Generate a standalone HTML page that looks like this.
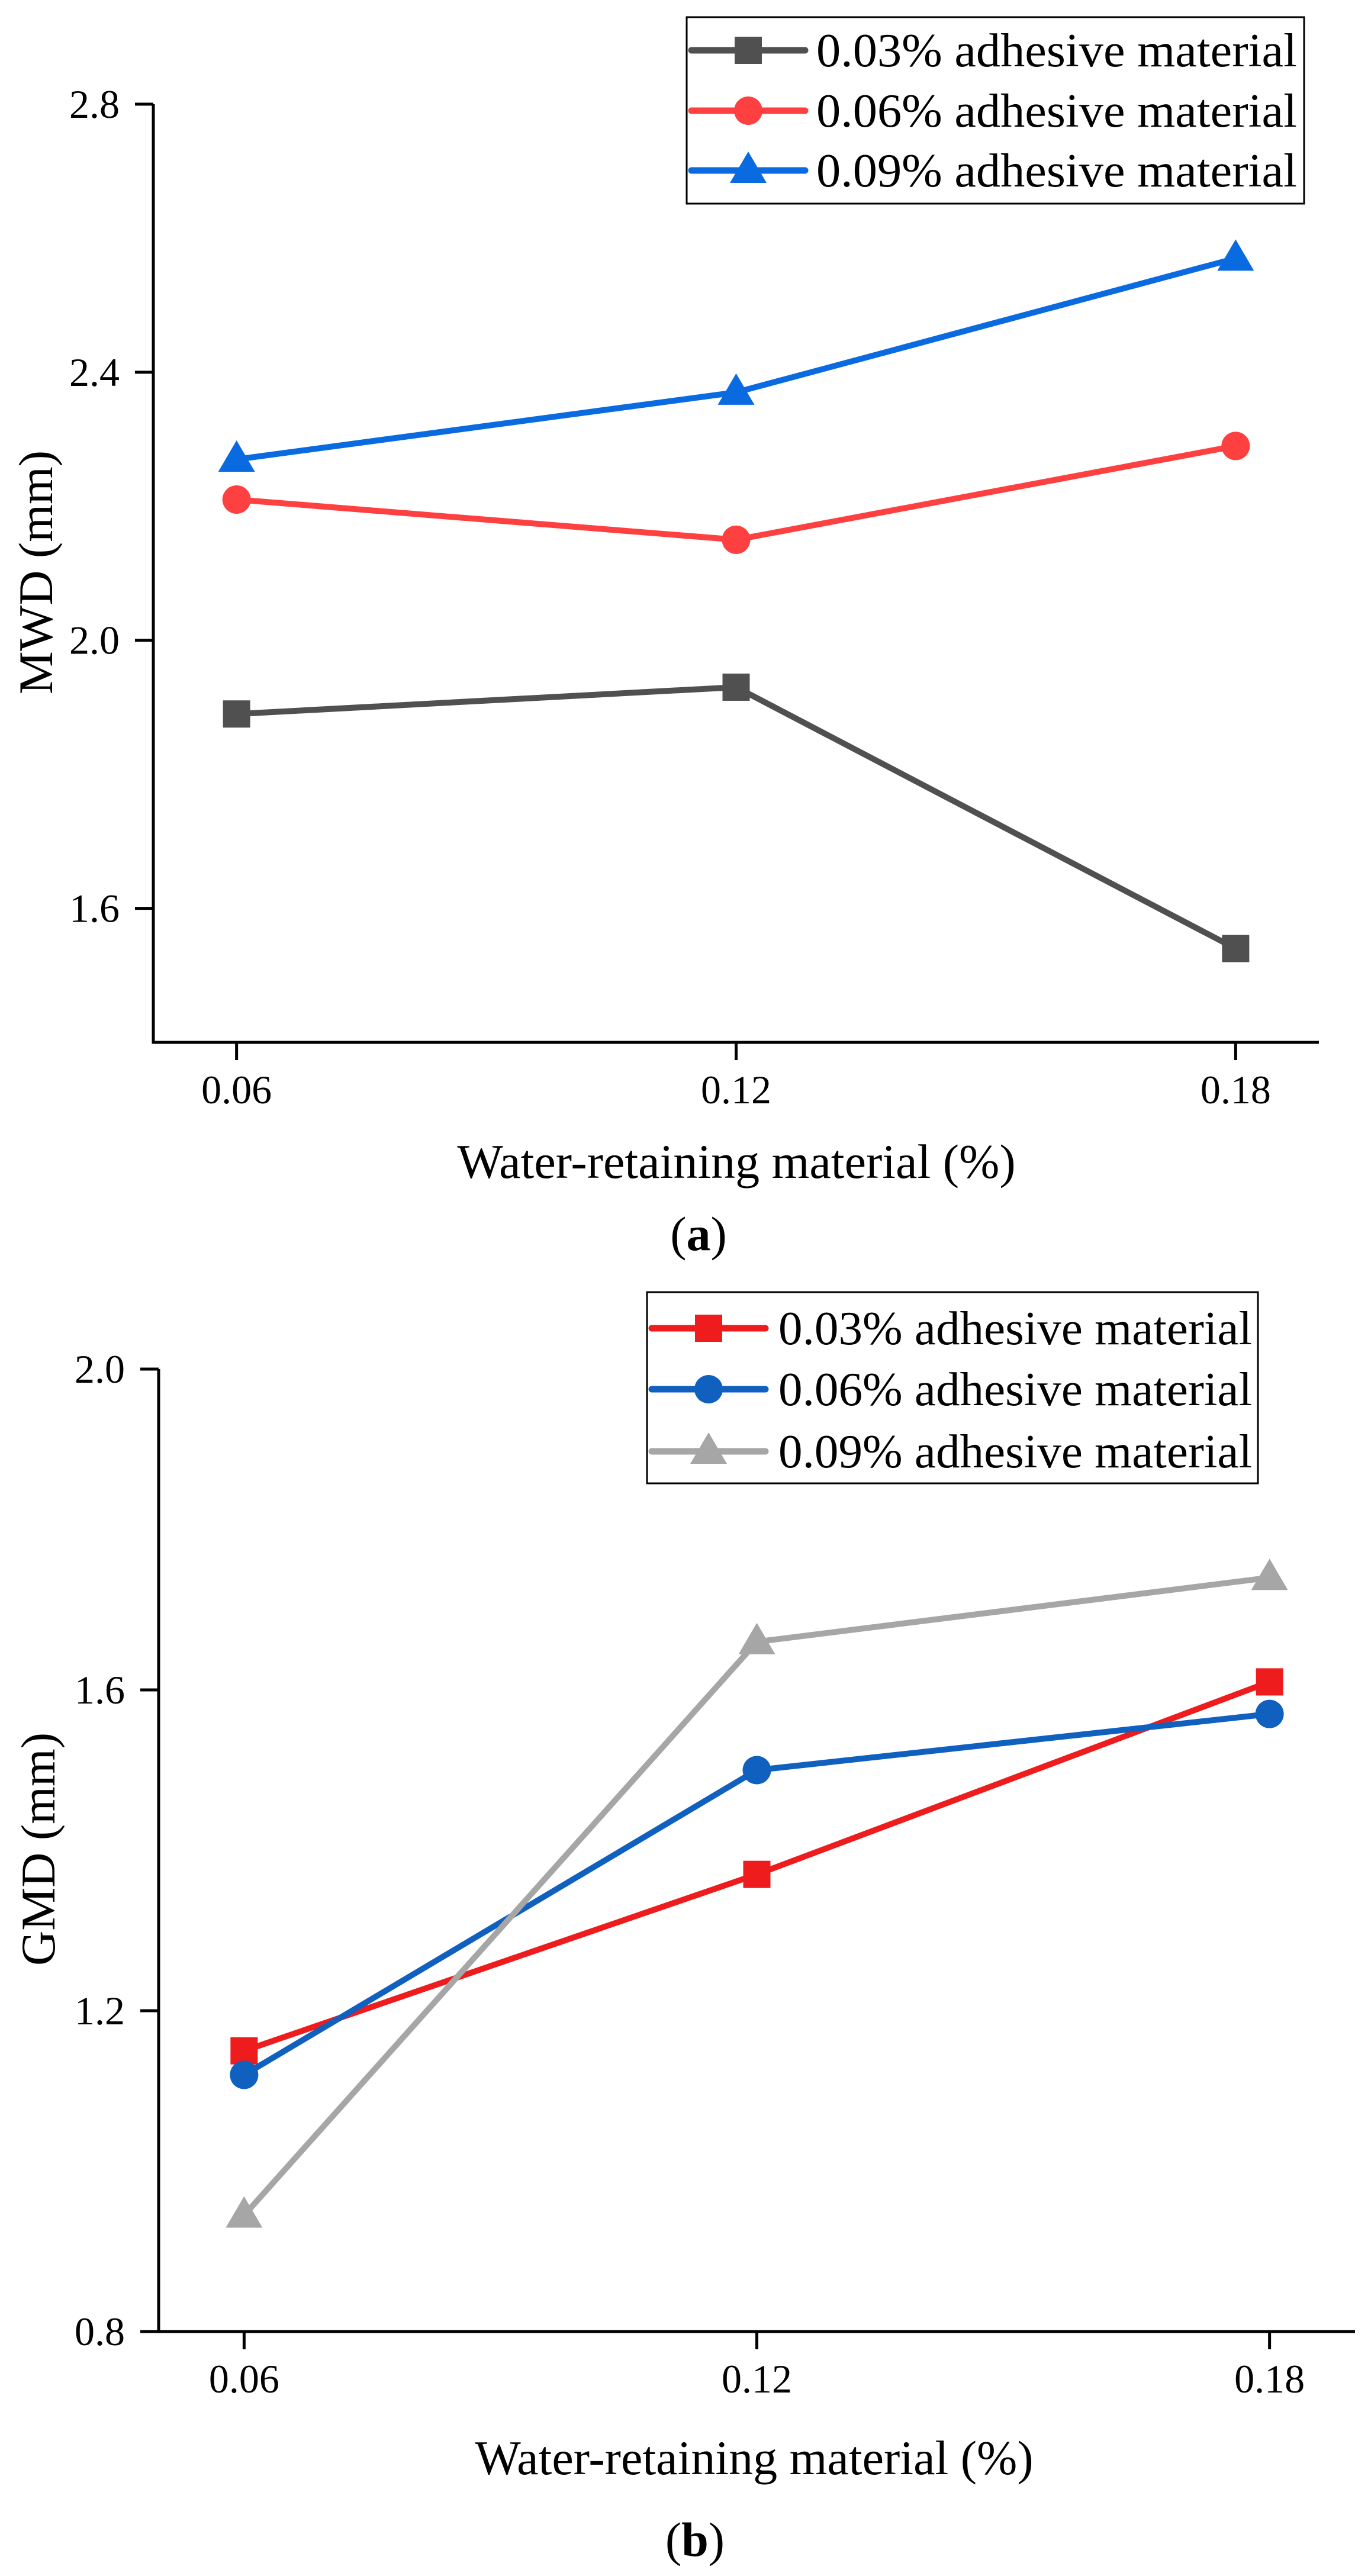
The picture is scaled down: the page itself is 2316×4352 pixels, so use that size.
<!DOCTYPE html>
<html><head><meta charset="utf-8"><style>
html,body{margin:0;padding:0;background:#fff;}
svg{display:block;font-family:"Liberation Serif","Times New Roman",serif;}
text{font-family:"Liberation Serif","Times New Roman",serif;}
</style></head><body>
<svg id="fig" width="2316" height="4352" viewBox="0 0 2316 4352"></svg>
<script>
const categories = [0.06, 0.12, 0.18];
const xTicks = ["0.06", "0.12", "0.18"];
const seriesNamesA = ["0.03% adhesive material", "0.06% adhesive material", "0.09% adhesive material"];
const mwd003 = [1.89, 1.93, 1.54];
const mwd006 = [2.21, 2.15, 2.29];
const mwd009 = [2.27, 2.37, 2.57];
const yTicksA = [1.6, 2.0, 2.4, 2.8];
const yTickLabelsA = ["1.6", "2.0", "2.4", "2.8"];
const gmd003 = [1.15, 1.37, 1.61];
const gmd006 = [1.12, 1.50, 1.57];
const gmd009 = [0.945, 1.66, 1.74];
const yTicksB = [0.8, 1.2, 1.6, 2.0];
const yTickLabelsB = ["0.8", "1.2", "1.6", "2.0"];

const NS = "http://www.w3.org/2000/svg";
const svg = document.getElementById('fig');
function el(tag, attrs, parent, text){
  const e = document.createElementNS(NS, tag);
  for (const k in attrs) e.setAttribute(k, attrs[k]);
  if (tag === 'text') e.setAttribute('font-family', '"Liberation Serif", serif');
  if (text !== undefined) e.textContent = text;
  (parent || svg).appendChild(e);
  return e;
}
function marker(g, shape, cx, cy, color){
  let m;
  if (shape === 'square') m = el('rect', {x: cx-23, y: cy-23, width: 46, height: 46, fill: color}, g);
  else if (shape === 'circle') m = el('circle', {cx: cx, cy: cy, r: 24, fill: color}, g);
  else m = el('polygon', {points: `${cx},${cy-32} ${cx-31},${cy+21} ${cx+31},${cy+21}`, fill: color}, g);
  return m;
}
function chart(cfg){
  const g = el('g', {});
  
  
  const X = v => cfg.x0 + (v - 0.05) / 0.14 * (cfg.x1 - cfg.x0);
  const Y = v => cfg.yb - (v - cfg.ymin) / (cfg.ymax - cfg.ymin) * (cfg.yb - cfg.yt);
  const ax = el('path', {d: `M${cfg.x0},${cfg.yt} V${cfg.yb} H${cfg.x1}`, fill: 'none', stroke: '#000', 'stroke-width': 5}, g);
  
  
  cfg.yTicks.forEach((v, i) => {
    const t = el('line', {x1: cfg.x0 - 31, x2: cfg.x0, y1: Y(v), y2: Y(v), stroke: '#000', 'stroke-width': 5}, g);
    
    
    const l = el('text', {x: cfg.x0 - 57, y: Y(v) + 23, 'text-anchor': 'end', 'font-size': 68}, g, cfg.yLabels[i]);
    
    
  });
  categories.forEach((v, i) => {
    const t = el('line', {x1: X(v), x2: X(v), y1: cfg.yb, y2: cfg.yb + 30, stroke: '#000', 'stroke-width': 5}, g);
    
    
    const l = el('text', {x: X(v), y: cfg.yb + 103, 'text-anchor': 'middle', 'font-size': 68}, g, xTicks[i]);
    
    
  });
  const xt = el('text', {x: cfg.xtX, y: cfg.xtY, 'text-anchor': 'middle', 'font-size': 82}, g, 'Water-retaining material (%)');
  
  
  const yt = el('text', {x: 0, y: 0, 'text-anchor': 'middle', 'font-size': 82, transform: `translate(${cfg.ytX},${cfg.ytY}) rotate(-90)`}, g, cfg.yTitle);
  
  
  const cap = el('text', {x: cfg.capX, y: cfg.capY, 'text-anchor': 'middle', 'font-size': 82}, g);
  
  
  el('tspan', {}, cap, '(');
  el('tspan', {'font-weight': 'bold'}, cap, cfg.cap);
  el('tspan', {}, cap, ')');
  cfg.series.forEach((s, si) => {
    const sg = el('g', {}, g);
    
    
    const pts = s.values.map((v, i) => `${X(categories[i])},${Y(v)}`).join(' ');
    const pl = el('polyline', {points: pts, fill: 'none', stroke: s.color, 'stroke-width': 10, 'stroke-linejoin': 'round'}, sg);
    
    
    s.values.forEach((v, i) => {
      const m = marker(sg, s.shape, X(categories[i]), Y(v), s.color);
      
      
    });
  });
  const lg = el('g', {}, g);
  
  
  el('rect', {x: cfg.lx0, y: cfg.ly0, width: cfg.lx1 - cfg.lx0, height: cfg.ly1 - cfg.ly0, fill: '#fff', stroke: '#000', 'stroke-width': 3}, lg);
  cfg.series.forEach((s, si) => {
    const row = el('g', {}, lg);
    
    
    const yy = cfg.lrows[si];
    el('line', {x1: cfg.lx0 + 8, x2: cfg.lx0 + 200, y1: yy, y2: yy, stroke: s.color, 'stroke-width': 11, 'stroke-linecap': 'round'}, row);
    marker(row, s.shape, cfg.lx0 + 104, yy, s.color);
    el('text', {x: cfg.ltx, y: yy + 27, 'font-size': cfg.lfs, textLength: cfg.ltw, lengthAdjust: 'spacingAndGlyphs'}, row, seriesNamesA[si]);
  });
}
chart({name: 'chart-a-mwd', x0: 259, x1: 2228, yt: 176, yb: 1761, ymin: 1.4, ymax: 2.8,
  yTicks: yTicksA, yLabels: yTickLabelsA, yTitle: 'MWD (mm)', ytX: 88, ytY: 967,
  xtX: 1244, xtY: 1990, cap: 'a', capX: 1180, capY: 2112,
  lx0: 1160, lx1: 2203, ly0: 29, ly1: 344, lrows: [85, 187, 288], ltx: 1379, lfs: 80, ltw: 812,
  series: [
    {key: '003', values: mwd003, color: '#505050', shape: 'square'},
    {key: '006', values: mwd006, color: '#ff4040', shape: 'circle'},
    {key: '009', values: mwd009, color: '#0a6ae0', shape: 'triangle'}
  ]});
chart({name: 'chart-b-gmd', x0: 268, x1: 2289, yt: 2313, yb: 3939, ymin: 0.8, ymax: 2.0,
  yTicks: yTicksB, yLabels: yTickLabelsB, yTitle: 'GMD (mm)', ytX: 92, ytY: 3124,
  xtX: 1274, xtY: 4180, cap: 'b', capX: 1174, capY: 4318,
  lx0: 1093, lx1: 2125, ly0: 2183, ly1: 2506, lrows: [2244, 2347, 2452], ltx: 1315, lfs: 80, ltw: 800,
  series: [
    {key: '003', values: gmd003, color: '#ee1c1c', shape: 'square'},
    {key: '006', values: gmd006, color: '#1060c0', shape: 'circle'},
    {key: '009', values: gmd009, color: '#a6a6a6', shape: 'triangle'}
  ]});
</script>
</body></html>
